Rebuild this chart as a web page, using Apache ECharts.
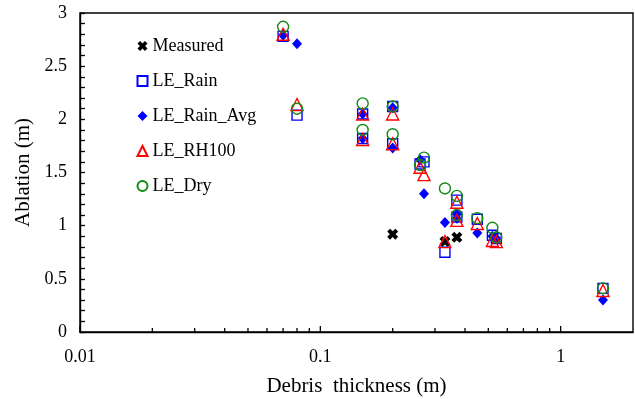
<!DOCTYPE html>
<html>
<head>
<meta charset="utf-8">
<script src="https://cdn.jsdelivr.net/npm/echarts@6/dist/echarts.min.js"></script>
<style>
  html, body { margin: 0; padding: 0; background: #fff; }
  #main { width: 635px; height: 399px; }
</style>
</head>
<body>
<div id="main"></div>
<script>
// debris thickness (m) / ablation (m)
var measured = [[0.2, 0.92], [0.33, 0.85], [0.37, 0.89]];

var leRain = [[0.07, 2.78], [0.08, 2.04], [0.15, 2.05], [0.15, 1.82], [0.2, 2.12], [0.2, 1.77],
	[0.26, 1.58], [0.27, 1.60], [0.33, 0.75], [0.37, 1.24], [0.37, 1.08], [0.45, 1.06],
	[0.52, 0.91], [0.54, 0.88], [1.5, 0.41]];

var leRainAvg = [[0.07, 2.79], [0.08, 2.71], [0.15, 2.05], [0.15, 1.82], [0.2, 2.11], [0.2, 1.73],
	[0.26, 1.62], [0.27, 1.30], [0.33, 1.03], [0.37, 1.11], [0.37, 1.07], [0.45, 0.93],
	[0.52, 0.90], [0.54, 0.88], [1.5, 0.30]];

var leRH100 = [[0.07, 2.80], [0.08, 2.14], [0.15, 2.05], [0.15, 1.81], [0.2, 2.05], [0.2, 1.77],
	[0.26, 1.55], [0.27, 1.48], [0.33, 0.85], [0.37, 1.22], [0.37, 1.05], [0.45, 1.02],
	[0.52, 0.86], [0.54, 0.85], [1.5, 0.39]];

var leDry = [[0.07, 2.87], [0.08, 2.10], [0.15, 2.15], [0.15, 1.90], [0.2, 2.12], [0.2, 1.86],
	[0.26, 1.57], [0.27, 1.64], [0.33, 1.35], [0.37, 1.28], [0.37, 1.10], [0.45, 1.07],
	[0.52, 0.98], [0.54, 0.89], [1.5, 0.41]];

// ticks on the log axis (drawn by a custom series)
var xMajorTicks = [0.01, 0.1, 1];
var xMinorTicks = [0.02, 0.03, 0.04, 0.05, 0.06, 0.07, 0.08, 0.09,
	0.2, 0.3, 0.4, 0.5, 0.6, 0.7, 0.8, 0.9];

var font = "'Liberation Serif', 'Times New Roman', serif";
var crossPath = "path://M0,2.6 L2.6,0 L5,2.4 L7.4,0 L10,2.6 L7.6,5 L10,7.4 L7.4,10 L5,7.6 L2.6,10 L0,7.4 L2.4,5 Z";

var chart = echarts.init(document.getElementById("main"));

function hollow(name, data, symbol, size, color) {
	return {
		name: name,
		type: "scatter",
		data: data,
		symbol: symbol,
		symbolSize: size,
		itemStyle: { color: "none", borderColor: color, borderWidth: 1.4, opacity: 1 },
		emphasis: { disabled: true }
	};
}

function tickSeries(name, values, len) {
	return {
		name: name,
		type: "custom",
		silent: true,
		clip: false,
		z: 5,
		data: values.map(function (v) { return [v, 0]; }),
		encode: { x: 0, y: 1 },
		renderItem: function (params, api) {
			var b = api.coord([api.value(0), api.value(1)]);
			return {
				type: "line",
				shape: { x1: b[0], y1: b[1], x2: b[0], y2: b[1] - len },
				style: { stroke: "#000", lineWidth: 1.3 }
			};
		}
	};
}

var option = {
	animation: false,
	backgroundColor: "#fff",
	grid: {
		left: 80, right: 2, top: 13, bottom: 67,
		outerBoundsMode: "none",
		containLabel: false,
		show: true, borderColor: "#000", borderWidth: 1.4
	},
	legend: {
		orient: "vertical",
		left: 135, top: 36,
		padding: 0,
		itemWidth: 10, itemHeight: 10,
		itemGap: 15,
		data: ["Measured", "LE_Rain", "LE_Rain_Avg", "LE_RH100", "LE_Dry"],
		textStyle: { fontFamily: font, fontSize: 18, color: "#000", lineHeight: 20 }
	},
	xAxis: {
		type: "log",
		logBase: 10,
		min: 0.01,
		max: 2,
		name: "Debris  thickness (m)",
		nameLocation: "middle",
		nameGap: 44,
		nameTextStyle: { fontFamily: font, fontSize: 21, color: "#000" },
		axisLine: { lineStyle: { color: "#000", width: 1.4 } },
		axisTick: { show: false },
		axisLabel: {
			fontFamily: font, fontSize: 18, color: "#000", margin: 16,
			showMaxLabel: false,
			formatter: function (v) { return String(v); }
		},
		splitLine: { show: false }
	},
	yAxis: {
		type: "value",
		min: 0,
		max: 3,
		interval: 0.5,
		name: "Ablation (m)",
		nameLocation: "middle",
		nameGap: 42,
		nameTextStyle: { fontFamily: font, fontSize: 21, color: "#000" },
		axisLine: { show: true, lineStyle: { color: "#000", width: 1.4 } },
		axisTick: { inside: true, length: 5, lineStyle: { color: "#000", width: 1.3 } },
		minorTick: { show: true, splitNumber: 5, length: 5, lineStyle: { color: "#000", width: 1.3 } },
		axisLabel: { fontFamily: font, fontSize: 18, color: "#000", margin: 13 },
		splitLine: { show: false }
	},
	series: [
		tickSeries("majorTicks", xMajorTicks, 6),
		tickSeries("minorTicks", xMinorTicks, 4),
		{
			name: "Measured",
			type: "scatter",
			data: measured,
			symbol: crossPath,
			symbolSize: 11,
			itemStyle: { color: "#000", opacity: 1 },
			emphasis: { disabled: true }
		},
		hollow("LE_Rain", leRain, "rect", 10, "#0000ff"),
		{
			name: "LE_Rain_Avg",
			type: "scatter",
			data: leRainAvg,
			symbol: "diamond",
			symbolSize: [10, 11],
			itemStyle: { color: "#0000ff", opacity: 1 },
			emphasis: { disabled: true }
		},
		hollow("LE_RH100", leRH100, "triangle", 12, "#ff0000"),
		hollow("LE_Dry", leDry, "circle", 11, "#128a12")
	]
};

chart.setOption(option);
</script>
</body>
</html>
